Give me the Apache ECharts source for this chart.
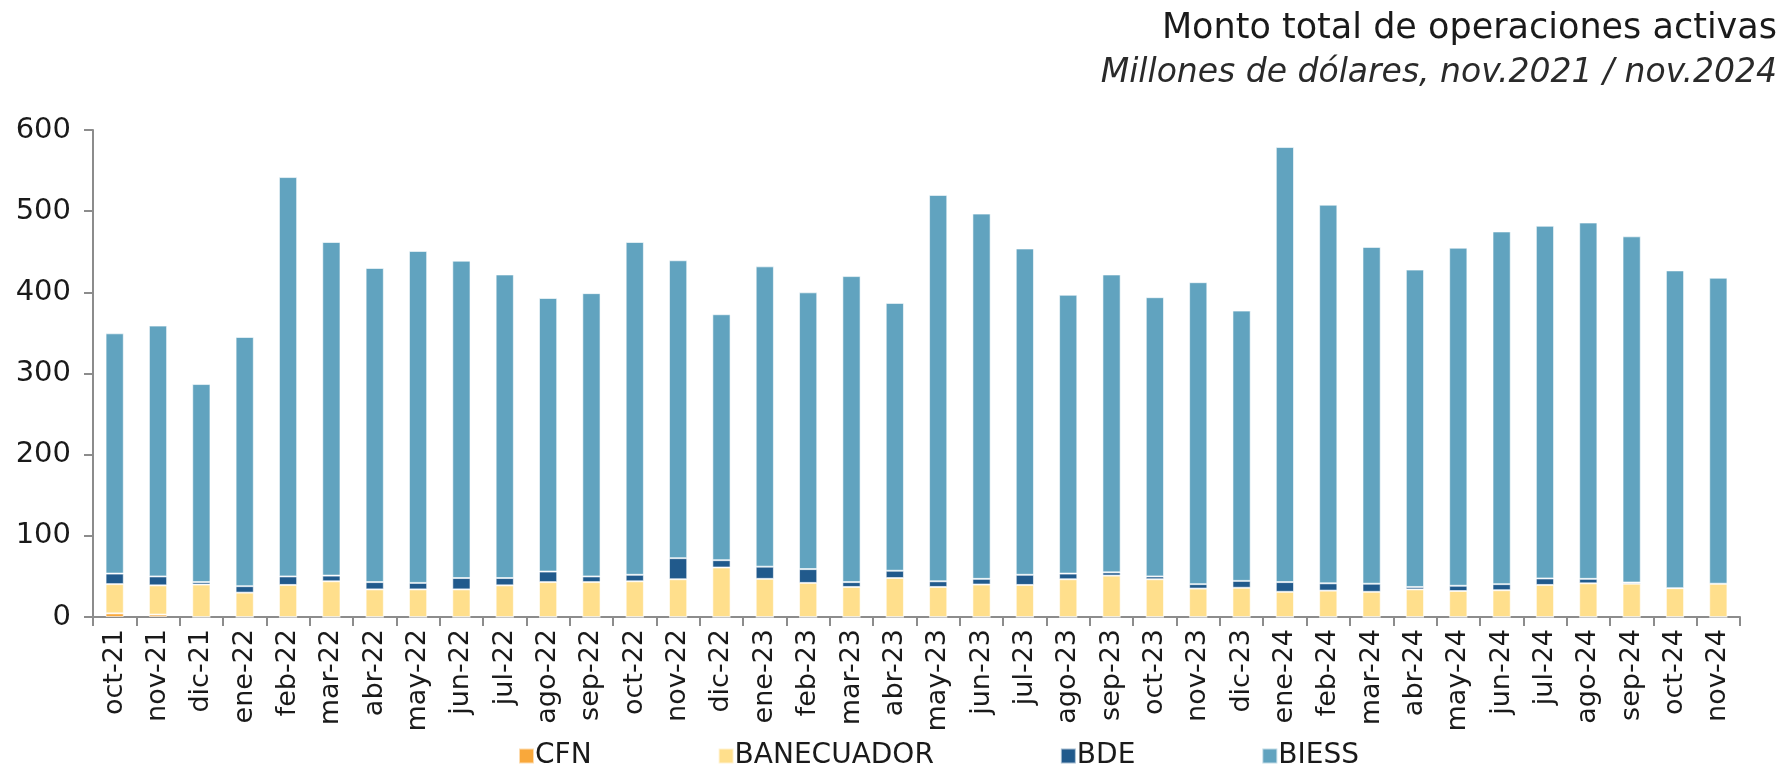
<!DOCTYPE html>
<html>
<head>
<meta charset="utf-8">
<script src="https://cdn.jsdelivr.net/npm/echarts@6/dist/echarts.min.js"></script>
<style>
  html, body { margin: 0; padding: 0; background: #fff; }
  #chart { width: 1788px; height: 764px; }
</style>
</head>
<body>
<div id="chart"></div>
<script>
// Monthly active operations of public banks (millions of USD)
const months = ['oct-21','nov-21','dic-21','ene-22','feb-22','mar-22','abr-22','may-22','jun-22','jul-22','ago-22','sep-22','oct-22','nov-22','dic-22','ene-23','feb-23','mar-23','abr-23','may-23','jun-23','jul-23','ago-23','sep-23','oct-23','nov-23','dic-23','ene-24','feb-24','mar-24','abr-24','may-24','jun-24','jul-24','ago-24','sep-24','oct-24','nov-24'];

const cfn = [4.5,3,0,0,0,0,0,0,0,0,0,0,0,0,0,0,0,0,0,0,0,0,0,0,0,0,0,0,0,0,0,0,0,0,0,0,0,0];

const banecuador = [36,36,40,30,39.5,44,34,34,34,39,43,43,44,46.5,61,47,42,37,48,37,40,39.5,46.5,51,46.5,35,36,31,32.5,31,34,32,33,39.5,41.5,41,35.5,41];

const bde = [13,11,3,8,10.5,7,9,8,14,9,13,7,8,26,9,15,17,6,9,7,7,12.5,7,4,3.5,5.5,8.5,12,9,10,3,6.5,7.5,8,5.5,1.5,0,0];

const biess = [296,309,244,307,492,411,387,409,391,374,337,349,410,367,303,370,341,377,330,476,450,402,343.5,367,344,372,333,536,466.5,415,391,416.5,434.5,434.5,439,426.5,391.5,377];

const yTicks = { min: 0, max: 600, interval: 100 };

const FONT = 'DejaVu Sans';
const TEXT = '#1a1a1a';
const AXIS = '#8c8c8c';

const colors = {
  CFN: '#F9A83B',
  BANECUADOR: '#FFDF8C',
  BDE: '#215A8C',
  BIESS: '#61A3BF'
};

function barSeries(name, data) {
  return {
    name: name,
    type: 'bar',
    stack: 'total',
    data: data,
    barWidth: '42%',
    itemStyle: {
      color: colors[name],
      borderColor: 'rgba(255,255,255,0.6)',
      borderWidth: 1
    },
    emphasis: { disabled: true }
  };
}

const chart = echarts.init(document.getElementById('chart'), null, { renderer: 'canvas' });

chart.setOption({
  animation: false,
  backgroundColor: '#ffffff',
  title: [
    {
      text: 'Monto total de operaciones activas',
      right: 6,
      top: 6,
      textStyle: { fontFamily: FONT, fontSize: 35, fontWeight: 'normal', color: TEXT }
    },
    {
      text: 'Millones de dólares, nov.2021 / nov.2024',
      right: 6,
      top: 52,
      textStyle: { fontFamily: FONT, fontSize: 33, fontStyle: 'italic', fontWeight: 'normal', color: '#2a2a2a' }
    }
  ],
  legend: {
    left: 513,
    top: 737,
    itemWidth: 15,
    itemHeight: 15,
    itemGap: 126,
    icon: 'rect',
    textStyle: { fontFamily: FONT, fontSize: 28, color: TEXT, padding: [0, 0, 0, -4] },
    data: ['CFN', 'BANECUADOR', 'BDE', 'BIESS']
  },
  grid: {
    left: 93,
    right: 48,
    top: 130,
    bottom: 147,
    containLabel: false
  },
  xAxis: {
    type: 'category',
    data: months,
    boundaryGap: true,
    axisLine: { show: true, lineStyle: { color: AXIS, width: 2 } },
    axisTick: { show: true, alignWithLabel: false, length: 9, lineStyle: { color: AXIS, width: 2 } },
    axisLabel: {
      rotate: 90,
      interval: 0,
      margin: 12,
      fontFamily: FONT,
      fontSize: 27,
      color: TEXT
    },
    splitLine: { show: false }
  },
  yAxis: {
    type: 'value',
    min: yTicks.min,
    max: yTicks.max,
    interval: yTicks.interval,
    axisLine: { show: true, lineStyle: { color: AXIS, width: 2 } },
    axisTick: { show: true, inside: false, length: 9, lineStyle: { color: AXIS, width: 2 } },
    axisLabel: {
      margin: 22,
      fontFamily: FONT,
      fontSize: 29,
      color: TEXT
    },
    splitLine: { show: false }
  },
  series: [
    barSeries('CFN', cfn),
    barSeries('BANECUADOR', banecuador),
    barSeries('BDE', bde),
    barSeries('BIESS', biess)
  ]
});
</script>
</body>
</html>
